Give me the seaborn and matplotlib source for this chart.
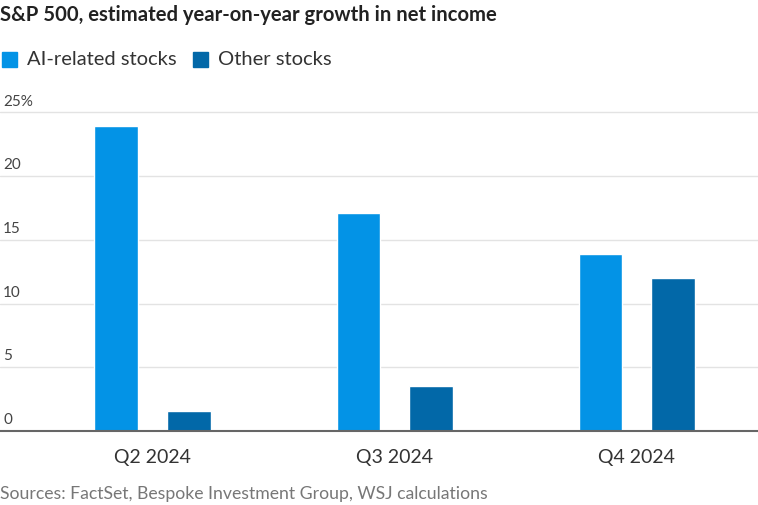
import pandas as pd
import seaborn as sns
import matplotlib.pyplot as plt

# values (percent)
quarters = ['Q2 2024', 'Q3 2024', 'Q4 2024']
ai_growth = [23.9, 17.1, 13.9]
other_growth = [1.6, 3.5, 12.0]
series_names = ['AI-related stocks', 'Other stocks']
y_ticks = [0, 5, 10, 15, 20, 25]

df = pd.DataFrame({
    'quarter': quarters * 2,
    'series': [series_names[0]] * 3 + [series_names[1]] * 3,
    'growth': ai_growth + other_growth,
})

sns.set_theme(style='white')
plt.rcParams['font.family'] = ['Lato', 'DejaVu Sans']

colors = {'AI-related stocks': '#0393e6', 'Other stocks': '#0268a8'}

fig = plt.figure(figsize=(7.58, 5.05), dpi=100)
ax = fig.add_axes([0, 0.1465, 1, 0.646])

sns.barplot(data=df, x='quarter', y='growth', hue='series', palette=colors,
            width=0.6, gap=0.4, saturation=1, legend=False, ax=ax)

ax.set_xlim(-0.63, 2.5)
ax.set_ylim(0, 25.6)
ax.set_yticks(y_ticks)
ax.yaxis.grid(True, color='#e3e3e3', linewidth=1)
ax.set_axisbelow(True)
ax.tick_params(axis='y', left=False, labelleft=False)
ax.tick_params(axis='x', bottom=False, labelsize=14, labelcolor='#333333', pad=7)
ax.set_xlabel('')
ax.set_ylabel('')
for side in ['top', 'right', 'left']:
    ax.spines[side].set_visible(False)
ax.spines['bottom'].set_color('#666666')
ax.spines['bottom'].set_linewidth(1.5)

# y tick labels sit just above each gridline, inside the plot
trans = ax.get_yaxis_transform()
for v in y_ticks:
    label = f'{v}%' if v == y_ticks[-1] else str(v)
    ax.text(0.004, v + 0.3, label, transform=trans, ha='left', va='bottom',
            fontsize=11, color='#444444')

fig.text(0.0, 0.97, 'S&P 500, estimated year-on-year growth in net income',
         ha='left', va='center', fontsize=14.6, fontweight='bold', color='#222222')

# legend: colour square then label
for name, x0 in [(series_names[0], 0.003), (series_names[1], 0.255)]:
    fig.patches.append(plt.Rectangle((x0, 0.867), 0.0198, 0.0297, transform=fig.transFigure,
                                     color=colors[name], figure=fig))
    fig.text(x0 + 0.033, 0.882, name, ha='left', va='center', fontsize=14.5, color='#333333')

fig.text(0.0, 0.022, 'Sources: FactSet, Bespoke Investment Group, WSJ calculations',
         ha='left', va='center', fontsize=12.7, color='#777777')

fig.savefig('out.png', dpi=100)
